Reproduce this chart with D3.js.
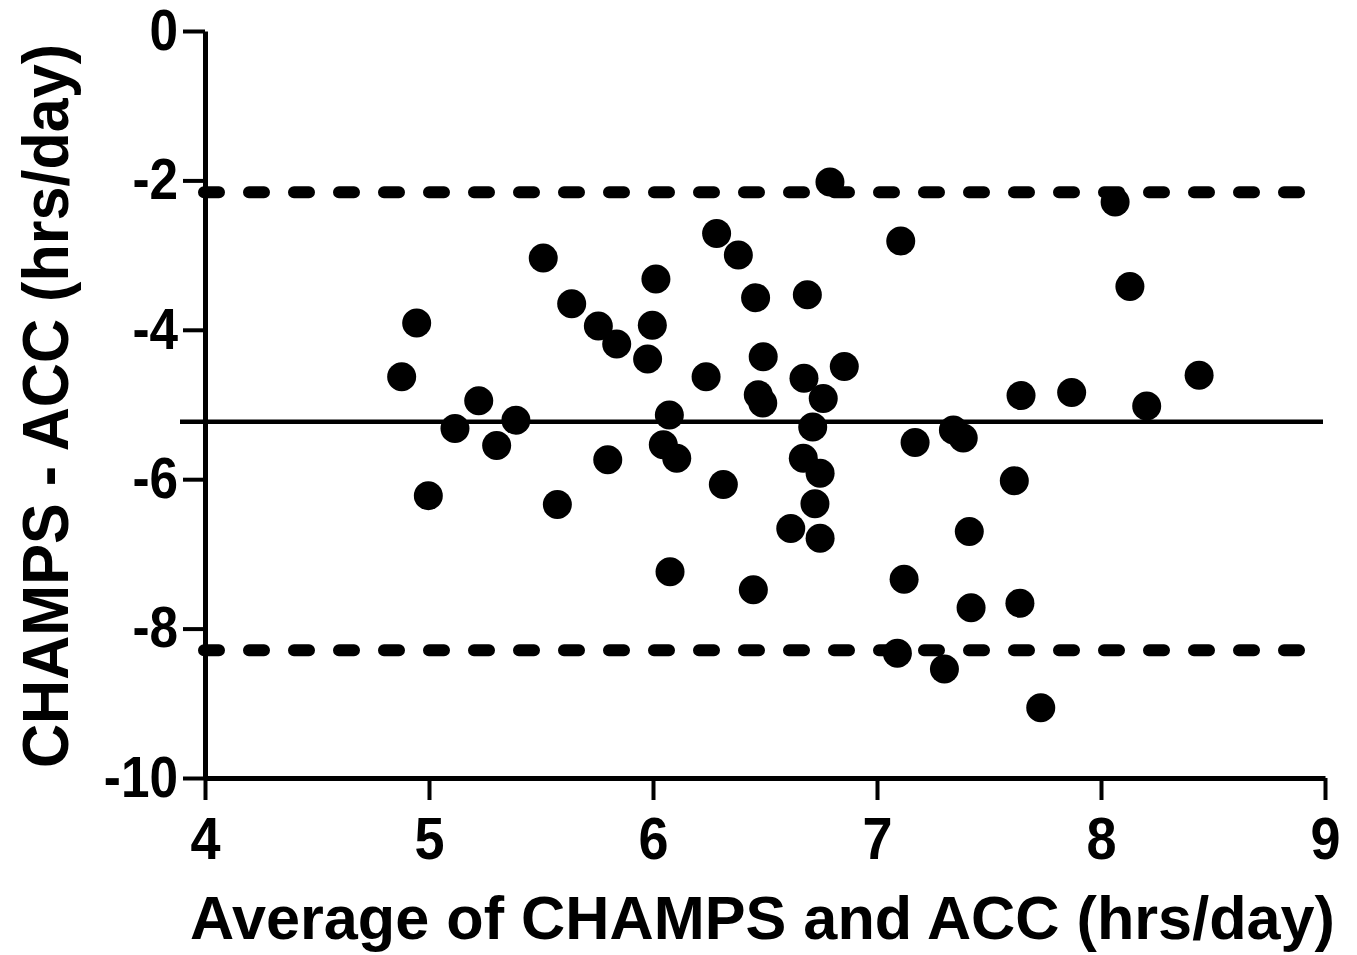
<!DOCTYPE html>
<html>
<head>
<meta charset="utf-8">
<script src="https://cdn.jsdelivr.net/npm/d3@7"></script>
<style>
  body { margin: 0; background: #fff; }
  text { font-family: "Liberation Sans", Arial, sans-serif; font-weight: bold; fill: #000; }
</style>
</head>
<body>
<div id="chart"></div>
<script>
// Bland-Altman: average (x) vs difference (y), hrs/day
var avgHrs = [4.945, 4.878, 5.510, 5.637, 5.756, 5.838, 6.013, 5.997, 5.976, 6.284,
              6.381, 6.458, 6.689, 6.237, 6.492, 6.674, 6.854, 6.470, 6.490, 6.760,
              5.222, 5.116, 5.388, 5.302, 6.073, 6.046, 6.106, 5.798, 6.713, 6.671,
              6.746, 6.723, 6.615, 6.746, 4.997, 5.573, 6.314, 6.076, 6.448, 6.790,
              7.106, 8.129, 8.063, 7.643, 7.869, 8.438, 8.204, 7.170, 7.341, 7.385,
              7.613, 7.412, 7.121, 7.420, 7.638, 7.091, 7.301, 7.731];
var diffHrs = [-3.91, -4.63, -3.04, -3.65, -3.95, -4.19, -3.32, -3.94, -4.39, -2.71,
               -3.00, -3.57, -3.53, -4.63, -4.36, -4.65, -4.49, -4.87, -4.98, -4.92,
               -4.95, -5.32, -5.21, -5.55, -5.14, -5.54, -5.72, -5.74, -5.30, -5.72,
               -5.92, -6.33, -6.66, -6.79, -6.22, -6.34, -6.07, -7.24, -7.48, -2.02,
               -2.81, -3.42, -2.29, -4.88, -4.84, -4.61, -5.02, -5.51, -5.34, -5.45,
               -6.02, -6.70, -7.34, -7.72, -7.66, -8.33, -8.54, -9.06];
var meanDiff = -5.23;
var limitsOfAgreement = [-2.16, -8.29];
var xTicks = [4, 5, 6, 7, 8, 9];
var yTicks = [0, -2, -4, -6, -8, -10];

var width = 1357, height = 955;
var x0 = 205, x1 = 1325, yTop = 31, yBot = 778;
var squeeze = 0.9; // text in the source is a bit narrow

var svg = d3.select("#chart").append("svg")
    .attr("width", width)
    .attr("height", height);

var x = d3.scaleLinear().domain([4, 9]).range([x0, x1]);
var y = d3.scaleLinear().domain([-10, 0]).range([yBot, yTop]);

// limits of agreement (dashed)
svg.selectAll("line.loa")
    .data(limitsOfAgreement)
    .enter()
    .append("line")
    .attr("class", "loa")
    .attr("x1", x0 - 1)
    .attr("x2", x1 - 4)
    .attr("y1", function(d) { return y(d); })
    .attr("y2", function(d) { return y(d); })
    .attr("stroke", "#000")
    .attr("stroke-width", 12)
    .attr("stroke-linecap", "round")
    .attr("stroke-dasharray", "15,30");

// mean difference
svg.append("line")
    .attr("x1", x0 - 25)
    .attr("x2", x1 - 2)
    .attr("y1", y(meanDiff))
    .attr("y2", y(meanDiff))
    .attr("stroke", "#000")
    .attr("stroke-width", 4.5);

// axes
var plainNum = function(d) { return String(d); }; // hyphen, not unicode minus

var yAxis = svg.append("g")
    .attr("transform", "translate(" + x0 + ",0)")
    .call(d3.axisLeft(y).tickValues(yTicks).tickSize(22).tickSizeOuter(0).tickPadding(8)
          .tickFormat(plainNum));

var xAxis = svg.append("g")
    .attr("transform", "translate(0," + yBot + ")")
    .call(d3.axisBottom(x).tickValues(xTicks).tickSize(22).tickSizeOuter(0).tickPadding(16)
          .tickFormat(plainNum));

[yAxis, xAxis].forEach(function(ax) {
  ax.select(".domain").attr("stroke", "#000").attr("stroke-width", 5);
  ax.selectAll(".tick line").attr("stroke", "#000").attr("stroke-width", 4);
});

yAxis.selectAll(".tick text")
    .style("font-size", "57px")
    .attr("x", -27 / squeeze)
    .attr("transform", "scale(" + squeeze + ",1)");

xAxis.selectAll(".tick text")
    .style("font-size", "60px")
    .attr("transform", "scale(" + squeeze + ",1)");

// points
svg.append("g").selectAll("circle")
    .data(avgHrs)
    .enter()
    .append("circle")
    .attr("cx", function(d) { return x(d); })
    .attr("cy", function(d, i) { return y(diffHrs[i]); })
    .attr("r", 14.5)
    .attr("fill", "#000");

// axis titles
svg.append("text")
    .attr("x", 190)
    .attr("y", 939)
    .attr("textLength", 1145)
    .attr("lengthAdjust", "spacingAndGlyphs")
    .style("font-size", "61px")
    .text("Average of CHAMPS and ACC (hrs/day)");

svg.append("text")
    .attr("transform", "translate(68,768) rotate(-90)")
    .attr("x", 0)
    .attr("y", 0)
    .attr("textLength", 724)
    .attr("lengthAdjust", "spacingAndGlyphs")
    .style("font-size", "64px")
    .text("CHAMPS - ACC (hrs/day)");
</script>
</body>
</html>
